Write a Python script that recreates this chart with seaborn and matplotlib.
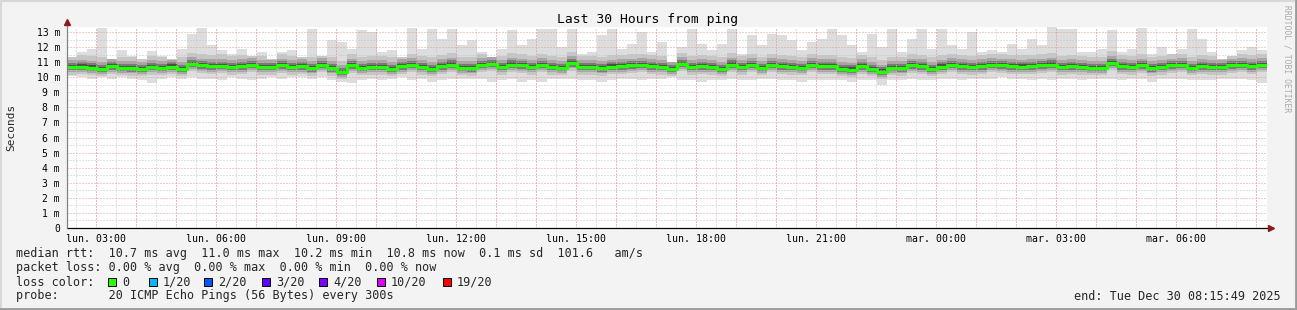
import numpy as np
import pandas as pd
import matplotlib
matplotlib.use("Agg")
import matplotlib.pyplot as plt
import seaborn as sns
from matplotlib.lines import Line2D
from matplotlib.patches import Rectangle

# ---------------- data (ms), one value per 15-minute bin, 30 hours ----------------
median_ms = [
    10.67, 10.71, 10.64, 10.56, 10.73, 10.62, 10.60, 10.55, 10.67, 10.62,
    10.71, 10.56, 10.89, 10.78, 10.73, 10.76, 10.67, 10.73, 10.82, 10.67,
    10.67, 10.78, 10.67, 10.73, 10.60, 10.82, 10.60, 10.35, 10.78, 10.62,
    10.67, 10.67, 10.56, 10.73, 10.82, 10.67, 10.56, 10.73, 10.84, 10.62,
    10.60, 10.82, 10.89, 10.67, 10.84, 10.78, 10.67, 10.82, 10.67, 10.62,
    10.93, 10.67, 10.67, 10.60, 10.71, 10.73, 10.78, 10.82, 10.73, 10.67,
    10.56, 10.89, 10.67, 10.73, 10.67, 10.56, 10.84, 10.67, 10.82, 10.62,
    10.82, 10.73, 10.67, 10.62, 10.82, 10.73, 10.73, 10.56, 10.51, 10.73,
    10.56, 10.38, 10.62, 10.60, 10.78, 10.73, 10.56, 10.71, 10.82, 10.73,
    10.67, 10.73, 10.82, 10.78, 10.73, 10.71, 10.73, 10.78, 10.84, 10.67,
    10.73, 10.67, 10.62, 10.62, 10.96, 10.73, 10.67, 10.78, 10.60, 10.67,
    10.78, 10.82, 10.62, 10.73, 10.67, 10.67, 10.78, 10.82, 10.73, 10.82,
]
max_ms = [
    11.33, 11.67, 11.84, 13.27, 11.22, 11.78, 11.44, 11.22, 11.71, 11.44,
    11.22, 11.84, 12.89, 13.27, 12.11, 11.78, 11.56, 11.89, 11.40, 11.67,
    11.22, 11.67, 11.78, 11.33, 13.22, 11.44, 12.44, 12.33, 11.89, 13.11,
    13.00, 11.67, 11.78, 11.33, 13.27, 11.89, 13.22, 12.56, 13.22, 12.11,
    12.44, 11.67, 11.33, 11.89, 13.11, 12.11, 12.56, 13.22, 13.22, 12.00,
    13.22, 11.56, 11.67, 12.78, 13.22, 11.89, 12.22, 13.00, 11.67, 12.33,
    11.00, 12.00, 13.22, 12.22, 11.78, 12.22, 13.22, 11.56, 12.78, 12.11,
    12.89, 12.78, 12.44, 11.78, 12.33, 12.56, 13.22, 12.78, 12.11, 11.67,
    12.89, 12.00, 13.22, 11.67, 12.56, 13.22, 11.89, 13.22, 12.11, 11.89,
    13.00, 11.67, 11.78, 11.67, 12.22, 11.89, 12.56, 12.11, 13.33, 13.22,
    13.22, 11.67, 11.67, 11.89, 13.11, 11.67, 11.89, 13.27, 11.56, 12.00,
    11.56, 11.89, 13.22, 12.56, 11.67, 11.22, 11.44, 11.78, 12.00, 11.78,
]
min_ms = [
    10.1, 10.0, 9.9, 10.0, 9.9, 10.0, 9.9, 9.8, 9.6, 9.9,
    10.0, 9.9, 10.0, 9.9, 9.9, 9.8, 10.0, 9.9, 9.8, 9.9,
    10.0, 9.9, 10.0, 10.0, 9.9, 10.0, 9.8, 9.7, 9.6, 9.8,
    9.9, 9.8, 9.9, 10.0, 9.8, 9.9, 9.7, 9.8, 9.9, 9.9,
    9.9, 9.9, 9.7, 9.8, 9.9, 9.7, 9.8, 9.7, 9.9, 9.9,
    9.9, 9.8, 9.8, 9.7, 9.8, 9.9, 9.9, 9.8, 9.9, 9.9,
    10.0, 9.8, 9.8, 9.7, 9.8, 9.8, 9.9, 9.8, 9.8, 9.9,
    9.9, 9.8, 9.8, 9.7, 9.8, 9.8, 9.8, 9.8, 9.7, 9.8,
    9.8, 9.5, 9.8, 9.8, 9.9, 9.8, 9.8, 9.9, 9.9, 9.8,
    9.9, 9.9, 9.9, 10.0, 9.9, 9.9, 9.8, 9.9, 9.8, 9.9,
    9.9, 9.8, 9.9, 9.9, 9.9, 9.8, 9.9, 9.9, 9.7, 9.9,
    9.9, 9.9, 9.8, 9.8, 9.8, 9.9, 9.9, 9.9, 9.8, 9.6,
]
bin_hours = 0.25
span_hours = 30
first_label_hour = 0.7364          # 03:00 relative to the start (02:15:49)
x_labels = ["lun. 03:00", "lun. 06:00", "lun. 09:00", "lun. 12:00", "lun. 15:00",
            "lun. 18:00", "lun. 21:00", "mar. 00:00", "mar. 03:00", "mar. 06:00"]
y_values = list(range(0, 14))
y_labels = ["0"] + [f"{v} m" for v in range(1, 14)]

title = "Last 30 Hours from ping"
ylabel = "Seconds"
stat_line = "median rtt:  10.7 ms avg  11.0 ms max  10.2 ms min  10.8 ms now  0.1 ms sd  101.6   am/s"
loss_line = "packet loss: 0.00 % avg  0.00 % max  0.00 % min  0.00 % now"
probe_line = "probe:       20 ICMP Echo Pings (56 Bytes) every 300s"
end_line = "end: Tue Dec 30 08:15:49 2025"
loss_labels = ["0", "1/20", "2/20", "3/20", "4/20", "10/20", "19/20"]
loss_colors = ["#26ff00", "#00b8ff", "#0059ff", "#5e00ff", "#7e00ff", "#dd00ff", "#ff0000"]

# ---------------- style ----------------
sns.set_style("white")
plt.rcParams["font.family"] = ["DejaVu Sans Mono", "DejaVu Sans"]

W, H = 1297, 310
fig = plt.figure(figsize=(W / 100, H / 100), dpi=100, facecolor="#f3f3f3")

def fx(px):
    return px / W

def fy(py):
    return 1 - py / H

L, R, T, B = 67, 1267, 27, 228
ax = fig.add_axes([fx(L), fy(B), (R - L) / W, (B - T) / H])
ax.set_facecolor("white")

n = len(median_ms)
t = np.arange(n + 1) * bin_hours
med = np.array(median_ms + [median_ms[-1]])
hi = np.array(max_ms + [max_ms[-1]])
lo = np.array(min_ms + [min_ms[-1]])

# smoke: outer light band then denser bands toward the median
ax.fill_between(t, lo, hi, step="post", color="#dddddd", lw=0, zorder=1)
spreads_up = [0.75, 0.45, 0.28, 0.14]
spreads_dn = [0.50, 0.35, 0.22, 0.12]
shades = ["#c6c6c6", "#a6a6a6", "#7a7a7a", "#4c4c4c"]
for su, sd, c in zip(spreads_up, spreads_dn, shades):
    ax.fill_between(t, np.maximum(med - sd, lo), np.minimum(med + su, hi),
                    step="post", color=c, lw=0, zorder=1.2)

# grid (drawn over the smoke like rrdtool)
minor_x = np.arange(first_label_hour - 0.5, span_hours, 0.5)
major_x = np.arange(first_label_hour, span_hours, 1.0)
dash = (1.0, 2.0)
for xv in minor_x:
    ax.axvline(xv, color="#c4c4c4", lw=0.72, dashes=dash, zorder=2)
for yv in np.arange(0.5, 13.4, 1.0):
    ax.axhline(yv, color="#c4c4c4", lw=0.72, dashes=dash, zorder=2)
for xv in major_x:
    ax.axvline(xv, color="#e49a9a", lw=0.72, dashes=dash, zorder=2.1)
for yv in range(1, 14):
    ax.axhline(yv, color="#e49a9a", lw=0.72, dashes=dash, zorder=2.1)

df = pd.DataFrame({"hours": t, "median": med})
sns.lineplot(data=df, x="hours", y="median", ax=ax, color="#22ff00", lw=2.3,
             drawstyle="steps-post", zorder=3, estimator=None, sort=False)

ax.set_xlim(0, span_hours)
ax.set_ylim(0, (B - T) / 15.077)
ax.set_xlabel("")
ax.set_ylabel("")
ax.set_xticks(first_label_hour + 3 * np.arange(len(x_labels)))
ax.set_xticklabels(x_labels, fontsize=7.1, color="#000000")
ax.set_yticks(y_values)
ax.set_yticklabels(y_labels, fontsize=7.0, color="#000000")
ax.tick_params(axis="x", length=0, pad=4)
ax.tick_params(axis="y", length=3, width=0.7, color="#777777", pad=2)
for s in ["top", "right"]:
    ax.spines[s].set_visible(False)
ax.spines["left"].set_color("#808080")
ax.spines["left"].set_linewidth(0.8)
ax.spines["bottom"].set_color("#000000")
ax.spines["bottom"].set_linewidth(0.8)

# axis extensions and arrows
fig.add_artist(Line2D([fx(L), fx(1270)], [fy(B), fy(B)], color="black", lw=0.8))
fig.add_artist(Line2D([fx(L), fx(L)], [fy(B), fy(23)], color="#808080", lw=0.8))
fig.add_artist(Line2D([fx(1271)], [fy(B)], marker=">", ms=4, color="#8b1a1a", mec="#8b1a1a"))
fig.add_artist(Line2D([fx(L)], [fy(22)], marker="^", ms=4, color="#8b1a1a", mec="#8b1a1a"))

# texts
fig.text(fx(648), fy(19), title, ha="center", va="center", fontsize=9.4, color="black")
fig.text(fx(11), fy(127), ylabel, ha="center", va="center", rotation=90, fontsize=8.0)
fig.text(fx(1287), fy(5), "RRDTOOL / TOBI OETIKER", ha="center", va="top",
         rotation=270, fontsize=5.8, color="#aaaaaa")
fs = 8.45
fig.text(fx(16), fy(254), stat_line, ha="left", va="center", fontsize=fs)
fig.text(fx(16), fy(268), loss_line, ha="left", va="center", fontsize=fs)
fig.text(fx(16), fy(282), "loss color:", ha="left", va="center", fontsize=fs)
fig.text(fx(16), fy(296), probe_line, ha="left", va="center", fontsize=fs)
fig.text(fx(1281), fy(296), end_line, ha="right", va="center", fontsize=fs)

sq_x = [108, 149, 204, 262, 319, 377, 443]
for xs, lab, col in zip(sq_x, loss_labels, loss_colors):
    fig.add_artist(Rectangle((fx(xs), fy(286)), 8 / W, 8 / H, facecolor=col,
                             edgecolor="black", lw=0.7, transform=fig.transFigure))
    fig.text(fx(xs + 14), fy(282), lab, ha="left", va="center", fontsize=fs)

# 3D-ish frame
fig.add_artist(Line2D([0, 1], [fy(0.5), fy(0.5)], color="#d8d8d8", lw=1.5))
fig.add_artist(Line2D([fx(0.5), fx(0.5)], [0, 1], color="#d8d8d8", lw=1.5))
fig.add_artist(Line2D([0, 1], [fy(309), fy(309)], color="#9a9a9a", lw=2))
fig.add_artist(Line2D([fx(1296), fx(1296)], [0, 1], color="#9a9a9a", lw=2))

fig.savefig("out.png", dpi=100, facecolor=fig.get_facecolor())
